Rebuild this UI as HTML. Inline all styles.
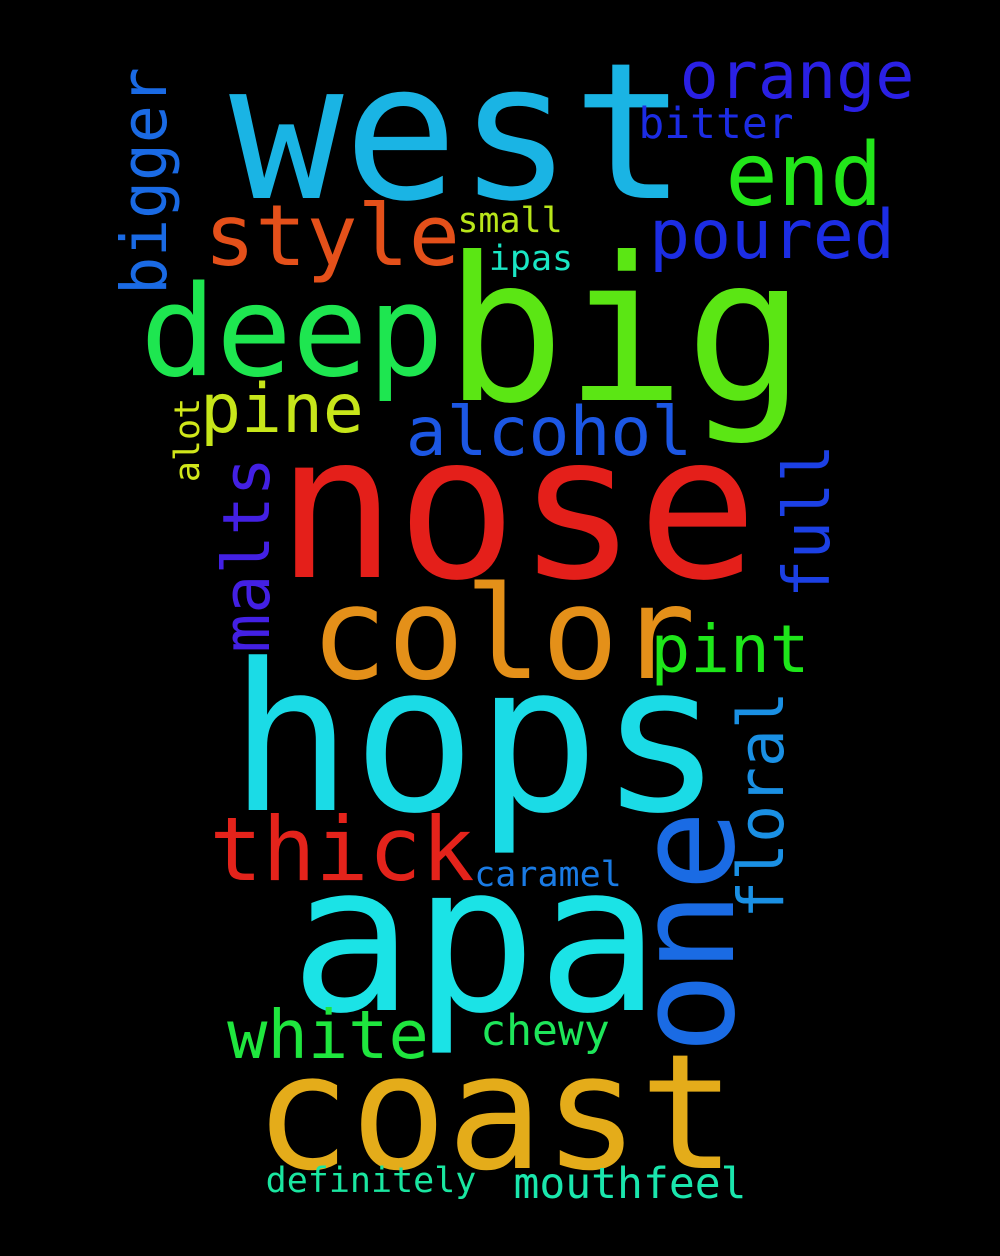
<!DOCTYPE html>
<html><head><meta charset="utf-8"><style>
html,body{margin:0;padding:0;background:#000;}
svg{display:block;}
text{font-family:"DejaVu Sans Mono","Liberation Mono",monospace;text-anchor:middle;}
</style></head><body>
<svg width="1000" height="1256" viewBox="0 0 1000 1256">
<rect width="1000" height="1256" fill="#000"/>
<text x="458" y="198" font-size="190" fill="#1ab4e4">west</text>
<text x="625" y="400" font-size="200" fill="#5be614">big</text>
<text x="517" y="577" font-size="200" fill="#e41f1a">nose</text>
<text x="476" y="810" font-size="205" fill="#1bdbe6">hops</text>
<text x="475" y="1010" font-size="205" fill="#1be3e6">apa</text>
<text x="495" y="1168" font-size="160" fill="#e4ac1a">coast</text>
<text x="292" y="375" font-size="126" fill="#1ee650">deep</text>
<text x="503" y="678" font-size="128" fill="#e49019">color</text>
<text transform="translate(733,932) rotate(-90)" font-size="135" fill="#1a6be4">one</text>
<text x="332" y="265" font-size="85" fill="#e4501a">style</text>
<text x="342" y="880" font-size="88" fill="#e4231b">thick</text>
<text x="328" y="1058" font-size="67" fill="#1fe63e">white</text>
<text x="804" y="205" font-size="87" fill="#22e61a">end</text>
<text x="797" y="98" font-size="65" fill="#2a20e4">orange</text>
<text x="772" y="258" font-size="68" fill="#1c2de4">poured</text>
<text x="549" y="455" font-size="68" fill="#1c57e4">alcohol</text>
<text x="282" y="432" font-size="68" fill="#c7e61a">pine</text>
<text x="730" y="672" font-size="66" fill="#1ee61a">pint</text>
<text transform="translate(166,181) rotate(-90)" font-size="63" fill="#1a6ae4">bigger</text>
<text transform="translate(269,555) rotate(-90)" font-size="65" fill="#4320e4">malts</text>
<text transform="translate(829,521) rotate(-90)" font-size="64" fill="#1c40e4">full</text>
<text transform="translate(783,805) rotate(-90)" font-size="63" fill="#1a90e4">floral</text>
<text transform="translate(199,440) rotate(-90)" font-size="35" fill="#d0e61a">alot</text>
<text x="716" y="138" font-size="43" fill="#1c2ce4">bitter</text>
<text x="510" y="232" font-size="35" fill="#b9e61a">small</text>
<text x="531" y="270" font-size="35" fill="#1ae6c4">ipas</text>
<text x="548" y="886" font-size="35" fill="#1a7be4">caramel</text>
<text x="545" y="1045" font-size="43" fill="#1ee65a">chewy</text>
<text x="371" y="1192" font-size="35" fill="#1ae6a0">definitely</text>
<text x="630" y="1198" font-size="43" fill="#1ae6ad">mouthfeel</text>
</svg>
</body></html>
